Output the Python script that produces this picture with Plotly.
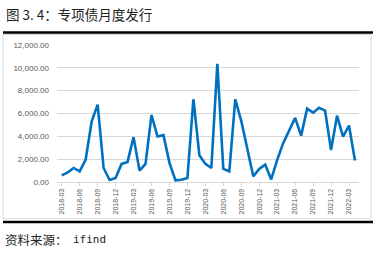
import plotly.graph_objects as go

months = []
y, m = 2018, 3
for _ in range(50):
    months.append(f"{y}-{m:02d}")
    m += 1
    if m > 12:
        m = 1
        y += 1

values = [580, 845, 1230, 935, 1965, 5285, 6780, 1230, 175, 350,
          1585, 1760, 3930, 995, 1585, 5870, 3990, 4105, 1675, 150,
          200, 350, 7250, 2345, 1585, 1230, 10350, 1145, 935, 7250,
          5340, 3000, 495, 1145, 1525, 225, 1945, 3400, 4500, 5620,
          4060, 6420, 6070, 6500, 6250, 2800, 5810, 3970, 4950, 1890]

tick_labels = months[::3]
y_ticks = [0, 2000, 4000, 6000, 8000, 10000, 12000]

title_text = "图 3. 4：专项债月度发行"
source_label = "资料来源："
source_name = "ifind"

W, H = 376, 254
L, R, T, B = 57, 359, 45, 182.3
pw, ph = R - L, B - T


def px(xp):
    return (xp - L) / pw


def py(yp):
    return (B - yp) / ph


fig = go.Figure()
fig.add_trace(go.Scatter(
    x=months, y=values, mode="lines",
    line=dict(color="#0070C0", width=2.6),
    hoverinfo="skip", showlegend=False,
))

fig.update_layout(
    width=W, height=H,
    margin=dict(l=L, r=W - R, t=T, b=H - B),
    paper_bgcolor="white", plot_bgcolor="white",
    font=dict(family="Liberation Sans, Arial", color="#595959"),
    xaxis=dict(
        type="category",
        range=[-0.79, 49.67],
        tickmode="array", tickvals=tick_labels, ticktext=tick_labels,
        tickangle=-90, tickfont=dict(size=7, color="#595959"),
        showgrid=False, showline=True, linecolor="#d9d9d9", linewidth=1,
        ticks="outside", ticklen=3, tickcolor="#d9d9d9",
        zeroline=False, fixedrange=True,
    ),
    yaxis=dict(
        range=[0, 12000], tickvals=y_ticks,
        ticktext=[f"{v:,.2f}" for v in y_ticks],
        tickfont=dict(size=8, color="#595959"),
        showgrid=True, gridcolor="#d9d9d9", gridwidth=1,
        zeroline=False, showline=False, ticks="",
        ticklabelstandoff=7, fixedrange=True,
    ),
    shapes=[
        dict(type="rect", xref="paper", yref="paper",
             x0=px(3), x1=px(371), y0=py(219), y1=py(34.5),
             line=dict(color="#d9d9d9", width=1), layer="below"),
        dict(type="line", xref="paper", yref="paper",
             x0=px(3), x1=px(373), y0=py(32.5), y1=py(32.5),
             line=dict(color="black", width=2.5)),
        dict(type="line", xref="paper", yref="paper",
             x0=px(3), x1=px(373), y0=py(222.5), y1=py(222.5),
             line=dict(color="black", width=2.5)),
    ],
    annotations=[
        dict(text=title_text, xref="paper", yref="paper",
             x=px(4), y=py(14), xanchor="left", yanchor="middle",
             showarrow=False,
             font=dict(family="Noto Sans CJK SC", size=13.5, color="#222222")),
        dict(text=source_label, xref="paper", yref="paper",
             x=px(3), y=py(240), xanchor="left", yanchor="middle",
             showarrow=False,
             font=dict(family="Noto Sans CJK SC", size=12.5, color="#222222")),
        dict(text=source_name, xref="paper", yref="paper",
             x=px(71), y=py(240), xanchor="left", yanchor="middle",
             showarrow=False,
             font=dict(family="DejaVu Sans Mono", size=11, color="#222222")),
    ],
)

fig.write_html("out.html")
